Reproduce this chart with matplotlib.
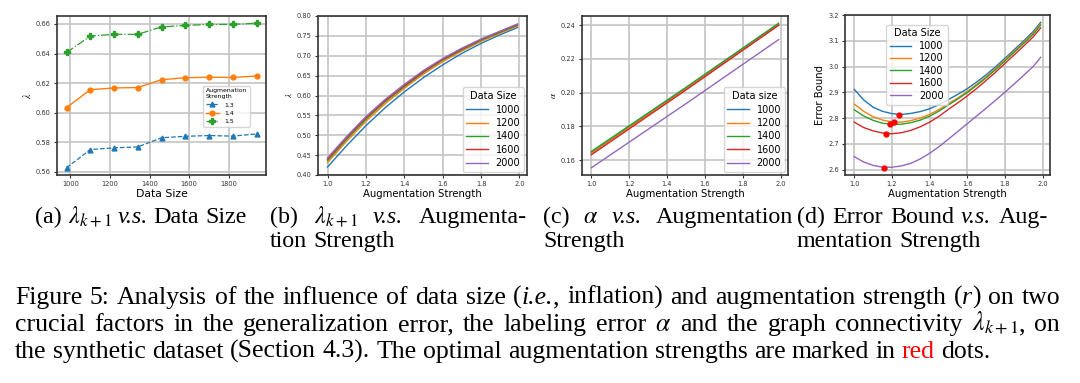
import matplotlib
matplotlib.use("Agg")
import matplotlib.pyplot as plt

# (a) lambda vs data size
a_sizes = [980, 1100, 1220, 1340, 1460, 1580, 1700, 1820, 1940]
a_lam_13 = [0.5627, 0.5750, 0.5762, 0.5768, 0.5830, 0.5840, 0.5845, 0.5841, 0.5856]
a_lam_14 = [0.6034, 0.6155, 0.6167, 0.6170, 0.6223, 0.6236, 0.6240, 0.6238, 0.6248]
a_lam_15 = [0.6407, 0.6518, 0.6530, 0.6530, 0.6580, 0.6590, 0.6597, 0.6597, 0.6605]
a_labels = ["1.3", "1.4", "1.5"]

# (b) lambda vs augmentation strength
strength = [1.0, 1.1, 1.2, 1.3, 1.4, 1.5, 1.6, 1.7, 1.8, 1.9, 1.99]
size_labels = ["1000", "1200", "1400", "1600", "2000"]
lam_1000 = [0.420, 0.474, 0.524, 0.569, 0.609, 0.645, 0.677, 0.706, 0.731, 0.753, 0.771]
lam_1200 = [0.431, 0.485, 0.535, 0.579, 0.618, 0.654, 0.685, 0.712, 0.736, 0.757, 0.775]
lam_1400 = [0.436, 0.490, 0.540, 0.584, 0.622, 0.658, 0.689, 0.715, 0.739, 0.759, 0.777]
lam_1600 = [0.440, 0.494, 0.544, 0.587, 0.625, 0.660, 0.691, 0.717, 0.741, 0.761, 0.779]
lam_2000 = [0.443, 0.497, 0.547, 0.590, 0.628, 0.663, 0.693, 0.719, 0.742, 0.762, 0.780]

# (c) alpha vs augmentation strength
c_strength = [1.0, 1.5, 1.99]
alpha_1000 = [0.1645, 0.2025, 0.2405]
alpha_1200 = [0.1640, 0.2021, 0.2402]
alpha_1400 = [0.1652, 0.2032, 0.2412]
alpha_1600 = [0.1632, 0.2016, 0.2400]
alpha_2000 = [0.1555, 0.1935, 0.2315]

# (d) error bound vs augmentation strength
d_strength = [1.0, 1.05, 1.1, 1.15, 1.2, 1.25, 1.3, 1.35, 1.4, 1.45, 1.5,
              1.55, 1.6, 1.65, 1.7, 1.75, 1.8, 1.85, 1.9, 1.95, 1.99]
eb_1000 = [2.911, 2.870, 2.842, 2.826, 2.817, 2.814, 2.818, 2.825, 2.836, 2.852, 2.872,
           2.892, 2.914, 2.940, 2.968, 2.999, 3.032, 3.066, 3.100, 3.136, 3.172]
eb_1200 = [2.854, 2.826, 2.805, 2.792, 2.785, 2.784, 2.790, 2.800, 2.814, 2.833, 2.856,
           2.878, 2.903, 2.931, 2.960, 2.992, 3.026, 3.060, 3.094, 3.130, 3.166]
eb_1400 = [2.832, 2.808, 2.791, 2.780, 2.775, 2.776, 2.782, 2.792, 2.807, 2.827, 2.851,
           2.874, 2.899, 2.927, 2.956, 2.988, 3.022, 3.056, 3.090, 3.125, 3.161]
eb_1600 = [2.784, 2.763, 2.750, 2.742, 2.739, 2.743, 2.752, 2.766, 2.784, 2.807, 2.834,
           2.859, 2.886, 2.915, 2.946, 2.978, 3.012, 3.046, 3.080, 3.115, 3.150]
eb_2000 = [2.650, 2.629, 2.616, 2.609, 2.609, 2.614, 2.624, 2.641, 2.663, 2.689, 2.718,
           2.748, 2.778, 2.808, 2.838, 2.869, 2.900, 2.933, 2.966, 3.000, 3.036]
opt_strength = [1.24, 1.21, 1.19, 1.17, 1.16]
opt_bound = [2.813, 2.785, 2.775, 2.738, 2.607]

W, H = 1080, 383
fig = plt.figure(figsize=(W / 100, H / 100), dpi=100)
plt.rcParams["mathtext.fontset"] = "stix"


def add_axes(left, right, top, bottom):
    ax = fig.add_axes([left / W, 1 - bottom / H, (right - left) / W, (bottom - top) / H])
    ax.grid(True, color="#c4c4c4", linewidth=1.2)
    ax.set_axisbelow(True)
    for s in ax.spines.values():
        s.set_color("#333333")
        s.set_linewidth(1.2)
    ax.tick_params(labelsize=4.8, length=2.5, width=0.8, pad=2, colors="#333333")
    return ax


# (a)
ax = add_axes(57, 266, 16, 175)
ax.plot(a_sizes, a_lam_13, "--", marker="^", ms=3.5, lw=0.9, label=a_labels[0])
ax.plot(a_sizes, a_lam_14, "-", marker="o", ms=3.5, lw=1.0, label=a_labels[1])
ax.plot(a_sizes, a_lam_15, "-.", marker="P", ms=4, lw=0.9, label=a_labels[2])
ax.set_xticks([1000, 1200, 1400, 1600, 1800])
ax.set_yticks([0.56, 0.58, 0.60, 0.62, 0.64, 0.66])
ax.set_xlabel("Data Size", fontsize=7.8, labelpad=1)
ax.set_ylabel(r"$\lambda$", fontsize=7, labelpad=2)
ax.legend(title="Augmenation\nStrength", fontsize=4.4, title_fontsize=4.4,
          loc="upper left", bbox_to_anchor=(0.70, 0.56), borderaxespad=0,
          alignment="left", handlelength=2.2)

# (b)
ax = add_axes(318, 527, 16, 175)
for vals, lab in zip([lam_1000, lam_1200, lam_1400, lam_1600, lam_2000], size_labels):
    ax.plot(strength, vals, lw=1.0, label=lab)
ax.set_ylim(0.40, 0.80)
ax.set_yticks([0.40, 0.45, 0.50, 0.55, 0.60, 0.65, 0.70, 0.75, 0.80])
ax.set_xticks([1.0, 1.2, 1.4, 1.6, 1.8, 2.0])
ax.set_xlabel("Augmentation Strength", fontsize=7.3, labelpad=1)
ax.set_ylabel(r"$\lambda$", fontsize=6.5, labelpad=2)
ax.legend(title="Data Size", fontsize=7, title_fontsize=7, loc="lower right",
          borderaxespad=0.3, handlelength=2.2, labelspacing=0.35)

# (c)
ax = add_axes(582, 788, 16, 175)
for vals, lab in zip([alpha_1000, alpha_1200, alpha_1400, alpha_1600, alpha_2000], size_labels):
    ax.plot(c_strength, vals, lw=1.0, label=lab)
ax.set_yticks([0.16, 0.18, 0.20, 0.22, 0.24])
ax.set_xticks([1.0, 1.2, 1.4, 1.6, 1.8, 2.0])
ax.set_xlabel("Augmentation Strength", fontsize=7.3, labelpad=1)
ax.set_ylabel(r"$\alpha$", fontsize=6.5, labelpad=2)
ax.legend(title="Data size", fontsize=7, title_fontsize=7, loc="lower right",
          borderaxespad=0.3, handlelength=2.2, labelspacing=0.35)

# (d)
ax = add_axes(845, 1050, 15, 175)
for vals, lab in zip([eb_1000, eb_1200, eb_1400, eb_1600, eb_2000], size_labels):
    ax.plot(d_strength, vals, lw=1.0, label=lab)
ax.plot(opt_strength, opt_bound, "o", color="red", ms=3.5, ls="none")
ax.set_yticks([2.6, 2.7, 2.8, 2.9, 3.0, 3.1, 3.2])
ax.set_xticks([1.0, 1.2, 1.4, 1.6, 1.8, 2.0])
ax.set_xlabel("Augmentation Strength", fontsize=7.3, labelpad=1)
ax.set_ylabel("Error Bound", fontsize=7.3, labelpad=2)
ax.legend(title="Data Size", fontsize=7, title_fontsize=7, loc="upper left",
          bbox_to_anchor=(0.2, 0.94), borderaxespad=0, handlelength=2.2,
          labelspacing=0.25)

# captions, placed word by word so lines can be justified
renderer = fig.canvas.get_renderer()
SERIF = "Liberation Serif"
IT = {"style": "italic"}


def place(words, x0, x1, ybase, size, justify=True):
    groups = []
    for w in words:
        segs = w if isinstance(w, list) else [w]
        parts = []
        for s in segs:
            txt, kw = s if isinstance(s, tuple) else (s, {})
            t = fig.text(0, 0, txt, fontsize=size, family=SERIF, va="baseline", **kw)
            parts.append((t, t.get_window_extent(renderer).width))
        groups.append(parts)
    widths = [sum(p[1] for p in g) for g in groups]
    if justify and len(groups) > 1:
        gap = (x1 - x0 - sum(widths)) / (len(groups) - 1)
    else:
        gap = 0.25 * size * 100 / 72
    x = x0
    for g, w in zip(groups, widths):
        xx = x
        for t, tw in g:
            t.set_position((xx / W, 1 - ybase / H))
            xx += tw
        x += w + gap


sub = 17.3
place(["(a)", r"$\lambda_{k+1}$", ("v.s.", IT), "Data", "Size"], 35, 0, 223, sub, justify=False)
place(["(b)", r"$\lambda_{k+1}$", ("v.s.", IT), "Augmenta-"], 270, 527, 223, sub)
place(["tion", "Strength"], 270, 0, 247, sub, justify=False)
place(["(c)", r"$\alpha$", ("v.s.", IT), "Augmentation"], 543, 793, 223, sub)
place(["Strength"], 543, 0, 247, sub, justify=False)
place(["(d)", "Error", "Bound", ("v.s.", IT), "Aug-"], 797, 1048, 223, sub)
place(["mentation", "Strength"], 797, 0, 247, sub, justify=False)

cap = 18.5
line1 = ("Figure 5: Analysis of the influence of data size").split(" ") + \
    [["(", ("i.e.", IT), ","], "inflation)", "and", "augmentation", "strength",
     ["(", ("r", IT), ")"], "on", "two"]
line2 = ("crucial factors in the generalization error, the labeling error").split(" ") + \
    [r"$\alpha$", "and", "the", "graph", "connectivity", [r"$\lambda_{k+1}$", ","], "on"]
line3 = [(w, {"color": "red"}) if w == "red" else w for w in
         "the synthetic dataset (Section 4.3). The optimal augmentation strengths are marked in red dots.".split(" ")]
place(line1, 15, 1060, 304, cap)
place(line2, 15, 1060, 331, cap)
place(line3, 15, 0, 358, cap, justify=False)

fig.savefig("out.png", dpi=100)
